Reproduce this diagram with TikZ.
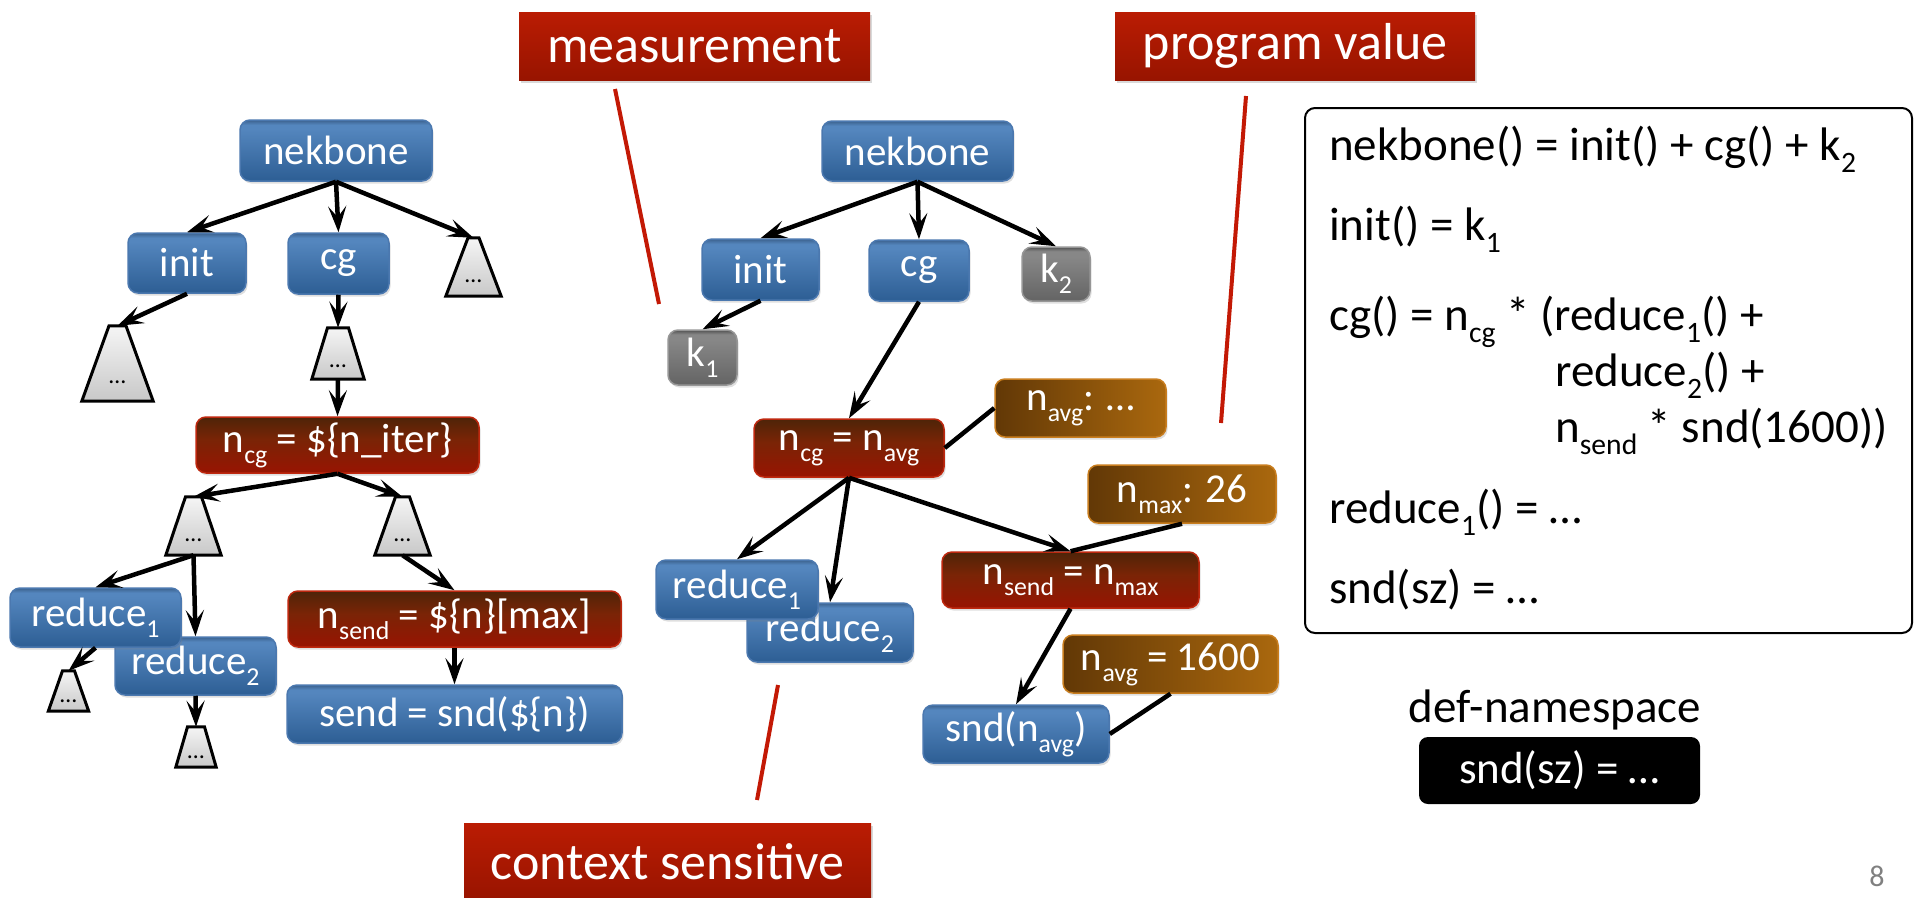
\documentclass[tikz,border=0pt]{standalone}
\usepackage{fontspec}
\setmainfont{Carlito}
\usepackage{graphicx}
\usetikzlibrary{arrows.meta,shadows}

% palette
\definecolor{bluebot}{RGB}{45,94,148}
\definecolor{bluelight}{RGB}{84,134,190}
\definecolor{bluetop}{RGB}{60,98,142}
\definecolor{blueedge}{RGB}{75,120,175}
\definecolor{redbot}{RGB}{152,20,2}
\definecolor{redmid}{RGB}{122,36,6}
\definecolor{redtop}{RGB}{78,36,8}
\definecolor{rededge}{RGB}{190,40,15}
\definecolor{orgL}{RGB}{98,56,6}
\definecolor{orgR}{RGB}{170,104,14}
\definecolor{orgedge}{RGB}{200,125,30}
\definecolor{graybot}{RGB}{100,100,100}
\definecolor{graylight}{RGB}{135,135,135}
\definecolor{graytop}{RGB}{82,82,82}
\definecolor{grayedge}{RGB}{150,150,150}
\definecolor{titletop}{RGB}{186,28,3}
\definecolor{titlebot}{RGB}{152,20,0}
\definecolor{trapTop}{RGB}{245,245,245}
\definecolor{trapBot}{RGB}{200,200,200}
\definecolor{markline}{RGB}{195,25,5}
\definecolor{pagegray}{RGB}{128,128,128}

% box fills: dark rim at the top, then a gradient downwards
\pgfdeclareverticalshading{blueshade}{100bp}{color(0bp)=(bluebot); color(25bp)=(bluebot); color(68bp)=(bluelight); color(71bp)=(bluelight); color(75bp)=(bluetop); color(100bp)=(bluetop)}
\pgfdeclareverticalshading{redshade}{100bp}{color(0bp)=(redbot); color(25bp)=(redbot); color(55bp)=(redmid); color(75bp)=(redtop); color(100bp)=(redtop)}
\pgfdeclareverticalshading{grayshade}{100bp}{color(0bp)=(graybot); color(25bp)=(graybot); color(66bp)=(graylight); color(71bp)=(graylight); color(75bp)=(graytop); color(100bp)=(graytop)}
\pgfdeclareverticalshading{titleshade}{100bp}{color(0bp)=(titlebot); color(25bp)=(titlebot); color(75bp)=(titletop); color(100bp)=(titletop)}

\newcommand\nodefont{\fontsize{41}{49}\selectfont}
\newcommand\titlefont{\fontsize{52}{62}\selectfont}
\newcommand\eqfont{\fontsize{47}{56}\selectfont}
\newcommand\dotfont{\fontsize{24}{28}\selectfont}
\newcommand\sbs[1]{\raisebox{-0.27em}{\scalebox{0.63}{#1}}}

\tikzset{
  wh/.style 2 args={minimum width=#1pt, minimum height=#2pt},
  box/.style={rounded corners=10pt, inner sep=0pt, text=white, font=\nodefont,
    drop shadow={opacity=0.25, shadow xshift=1.5pt, shadow yshift=-2.5pt}},
  bluebox/.style={box, shade, shading=blueshade, draw=blueedge, line width=1.5pt},
  redbox/.style={box, shade, shading=redshade, draw=rededge, line width=1.5pt},
  orgbox/.style={box, left color=orgL, right color=orgR, draw=orgedge, line width=1.5pt},
  graybox/.style={box, shade, shading=grayshade, draw=grayedge, line width=1.5pt},
  titlebox/.style={inner sep=0pt, text=white, font=\titlefont, shade, shading=titleshade,
    drop shadow={opacity=0.3, shadow xshift=2pt, shadow yshift=-3pt}},
  blackbox/.style={rounded corners=9pt, inner sep=0pt, fill=black, text=white, font=\fontsize{45}{54}\selectfont},
  trapbox/.style={inner sep=0pt},
  trapline/.style={draw=black, line width=3pt, line join=miter, top color=trapTop, bottom color=trapBot},
  dotsf/.style={inner sep=0pt, font=\dotfont, anchor=base},
  arr/.style={line width=4.5pt, -{Stealth[length=26pt,width=18pt,inset=11pt]}},
  link/.style={line width=4.5pt},
  markstroke/.style={line width=4pt, draw=markline},
  eqtext/.style={anchor=base west, inner sep=0pt, font=\eqfont},
}

% trapezoid placeholder: name, x, y, bottom width, height, top width
\newcommand\trapnode[6]{%
  \node[trapbox, minimum width=#4pt, minimum height=#5pt] (#1) at (#2,#3) {};
  \draw[trapline] ([xshift={-0.5*#6pt}]#1.north) -- ([xshift={0.5*#6pt}]#1.north)
    -- (#1.south east) -- (#1.south west) -- cycle;
  \node[dotsf] (#1d) at ([yshift={0.23*#5pt}]#1.south) {…};
}

\begin{document}
\begin{tikzpicture}[x=1pt, y=-1pt]
\useasboundingbox (0,0) rectangle (1919,897);

% ---------- labels on top and bottom ----------
\node[titlebox, wh={351}{68}] (measT) at (694.5,46) {measurement};
\node[titlebox, wh={360}{68}] (progT) at (1295,46) {program value};
\node[titlebox, wh={407}{78}] (ctxT) at (667.5,862) {context sensitive};

\coordinate (mA) at (615,89);   \coordinate (mB) at (659,304);
\coordinate (pA) at (1246,96);  \coordinate (pB) at (1221,423);
\coordinate (cA) at (778,685);  \coordinate (cB) at (757,800);
\draw[markstroke] (mA) -- (mB);
\draw[markstroke] (pA) -- (pB);
\draw[markstroke] (cA) -- (cB);

% ---------- left tree ----------
\node[bluebox, wh={192}{61}] (nekA) at (336,150.5) {nekbone};
\node[bluebox, wh={118}{60}] (initA) at (187,263) {init};
\node[bluebox, wh={101}{61}] (cgA) at (338.5,263.5) {cg};
\trapnode{tA}{473.5}{267}{55}{58}{11}
\trapnode{tB}{117.5}{363.5}{71}{75}{17}
\trapnode{tC}{338}{353.5}{52}{51}{21}
\node[redbox, wh={283}{56}] (ncgA) at (337.5,445) {n\sbs{cg} = \$\{n\_iter\}};
\trapnode{tD}{193.5}{526}{55}{58}{16}
\trapnode{tE}{402.5}{526}{55}{58}{14}
\node[bluebox, wh={161}{58}] (redBA) at (195.5,666) {reduce\sbs{2}};
\node[bluebox, wh={171}{59}] (redAA) at (95.5,617.5) {reduce\sbs{1}};
\trapnode{tF}{68.5}{691}{40}{40}{12}
\trapnode{tG}{196}{747}{40}{40}{17}
\node[redbox, wh={333}{56}] (nsendA) at (454.5,619) {n\sbs{send} = \$\{n\}[max]};
\node[bluebox, wh={335}{58}] (sendA) at (454.5,714) {send = snd(\$\{n\})};

\draw[arr] (nekA.south) -- (initA.north);
\draw[arr] (nekA.south) -- (cgA.north);
\draw[arr] (nekA.south) -- (tA.north);
\draw[arr] (initA.south) -- (tB.north);
\draw[arr] (cgA.south) -- (tC.north);
\draw[arr] (tC.south) -- (ncgA.north);
\draw[arr] (ncgA.south) -- (tD.north);
\draw[arr] (ncgA.south) -- (tE.north);
\draw[arr] (tD.south) -- (redAA.north);
\draw[arr] (tD.south) -- (redBA.north);
\draw[arr] (tE.south) -- (nsendA.north);
\draw[arr] (nsendA.south) -- (sendA.north);
\draw[arr] (redAA.south) -- (tF.north);
\draw[arr] (redBA.south) -- (tG.north);

% ---------- middle tree ----------
\node[bluebox, wh={191}{60}] (nekB) at (917.5,151) {nekbone};
\node[bluebox, wh={117}{61}] (initB) at (760.5,269.5) {init};
\node[bluebox, wh={100}{61}] (cgB) at (919,270.5) {cg};
\node[graybox, wh={68}{54}] (kTwo) at (1056,274) {k\sbs{2}};
\node[graybox, wh={69}{55}] (kOne) at (702.5,357.5) {k\sbs{1}};
\node[redbox, wh={190}{58}] (ncgB) at (849,448) {n\sbs{cg} = n\sbs{avg}};
\node[orgbox, wh={171}{58}] (navgB) at (1080.5,408) {n\sbs{avg}: …};
\node[orgbox, wh={188}{58}] (nmaxB) at (1182,494) {n\sbs{max}: 26};
\node[bluebox, wh={166}{59}] (redBB) at (830,632.5) {reduce\sbs{2}};
\node[bluebox, wh={162}{59}] (redAB) at (737,589.5) {reduce\sbs{1}};
\node[redbox, wh={257}{56}] (nsendB) at (1070.5,580) {n\sbs{send} = n\sbs{max}};
\node[orgbox, wh={215}{58}] (nfixB) at (1170.5,664) {n\sbs{avg} = 1600};
\node[bluebox, wh={186}{58}] (sndB) at (1016,734) {snd(n\sbs{avg})};

\draw[arr] (nekB.south) -- (initB.north);
\draw[arr] (nekB.south) -- (cgB.north);
\draw[arr] (nekB.south) -- (kTwo.north);
\draw[arr] (initB.south) -- (kOne.north);
\draw[arr] (cgB.south) -- (ncgB.north);
\draw[arr] (ncgB.south) -- (redAB.north);
\draw[arr] (ncgB.south) -- (redBB.north);
\draw[arr] (ncgB.south) -- (nsendB.north);
\draw[arr] (nsendB.south) -- (sndB.north);
\draw[link] (navgB.west) -- (ncgB.east);
\draw[link] (nmaxB.south) -- (nsendB.north);
\draw[link] (nfixB.south) -- (sndB.east);

% ---------- definitions ----------
\node[draw=black, line width=2pt, rounded corners=10pt, wh={607}{525}] (defs) at (1608.5,370.5) {};
\node[eqtext] (eqA) at (1329,160) {nekbone() = init() + cg() + k\sbs{2}};
\node[eqtext] (eqB) at (1329,240) {init() = k\sbs{1}};
\node[eqtext] (eqC) at (1329,330) {cg() = n\sbs{cg} * (reduce\sbs{1}() +};
\node[eqtext] (eqD) at (1555,386) {reduce\sbs{2}() +};
\node[eqtext] (eqE) at (1555,442) {n\sbs{send} * snd(1600))};
\node[eqtext] (eqF) at (1329,523) {reduce\sbs{1}() = …};
\node[eqtext] (eqG) at (1329,603) {snd(sz) = …};

\node[inner sep=0pt, font=\eqfont, anchor=base] (nsLabel) at (1555,722) {def-namespace};
\node[blackbox, wh={281}{67}] (nsBox) at (1559.5,770.5) {snd(sz) = …};

\node[inner sep=0pt, font=\fontsize{30}{36}\selectfont, text=pagegray] (pageNo) at (1877,876) {8};
\end{tikzpicture}
\end{document}
